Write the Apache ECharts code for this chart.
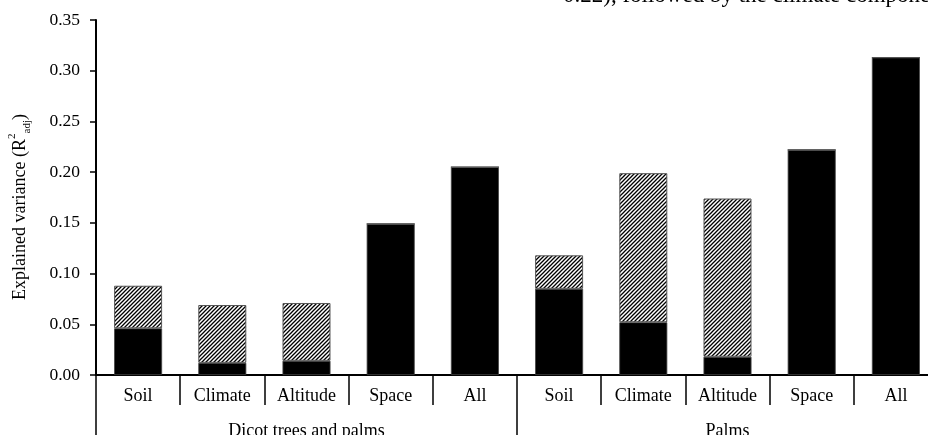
<!DOCTYPE html>
<html>
<head>
<meta charset="utf-8">
<script src="https://cdn.jsdelivr.net/npm/echarts@6/dist/echarts.min.js"></script>
<style>
  html, body { margin: 0; padding: 0; background: #fff; }
  #chart { width: 928px; height: 435px; }
</style>
</head>
<body>
<div id="chart"></div>
<script>
// Explained variance per predictor set, for two species groups
const categories = ['Soil', 'Climate', 'Altitude', 'Space', 'All',
                    'Soil', 'Climate', 'Altitude', 'Space', 'All'];
const groups = ['Dicot trees and palms', 'Palms'];
// pure fraction (solid) and shared fraction (hatched) stacked on top
const pureFraction   = [0.046, 0.012, 0.014, 0.149, 0.205, 0.085, 0.052, 0.018, 0.222, 0.313];
const sharedFraction = [0.042, 0.057, 0.057, 0, 0, 0.033, 0.147, 0.156, 0, 0];
const yTicks = { min: 0, max: 0.35, step: 0.05 };

const serif = '"Liberation Serif", "Times New Roman", serif';

// diagonal hatch tile
function hatchPattern() {
  const s = 4;
  const c = document.createElement('canvas');
  c.width = s; c.height = s;
  const g = c.getContext('2d');
  g.fillStyle = '#fff';
  g.fillRect(0, 0, s, s);
  g.strokeStyle = '#000';
  g.lineWidth = 1.3;
  g.beginPath();
  g.moveTo(-1, s + 1); g.lineTo(s + 1, -1);
  g.moveTo(-1, 1); g.lineTo(1, -1);
  g.moveTo(s - 1, s + 1); g.lineTo(s + 1, s - 1);
  g.stroke();
  return c;
}

const chart = echarts.init(document.getElementById('chart'), null, { renderer: 'canvas' });

chart.setOption({
  animation: false,
  backgroundColor: '#fff',
  textStyle: { fontFamily: serif },
  grid: { left: 96, right: -10, top: 20, bottom: 60, containLabel: false, outerBoundsMode: 'none' },
  xAxis: [
    {
      type: 'category',
      data: categories,
      boundaryGap: true,
      axisLine: { show: true, lineStyle: { color: '#000', width: 2 } },
      axisTick: { show: true, interval: 0, length: 30, lineStyle: { color: '#000', width: 1.5 } },
      axisLabel: { interval: 0, fontFamily: serif, fontSize: 18, color: '#000', margin: 12 },
      splitLine: { show: false }
    },
    {
      type: 'category',
      data: groups,
      position: 'bottom',
      boundaryGap: true,
      axisLine: { show: false },
      axisTick: { show: true, interval: 0, length: 62, lineStyle: { color: '#000', width: 1.5 } },
      axisLabel: { interval: 0, fontFamily: serif, fontSize: 18, color: '#000', margin: 47 },
      splitLine: { show: false }
    }
  ],
  yAxis: {
    type: 'value',
    min: yTicks.min,
    max: yTicks.max,
    interval: yTicks.step,
    axisLine: { show: true, lineStyle: { color: '#000', width: 2 } },
    axisTick: { show: true, inside: false, length: 6, lineStyle: { color: '#000', width: 1.5 } },
    axisLabel: {
      fontFamily: serif, fontSize: 17.5, color: '#000', margin: 16,
      formatter: v => v.toFixed(2)
    },
    splitLine: { show: false }
  },
  series: [
    {
      name: 'Pure',
      type: 'bar',
      stack: 'total',
      xAxisIndex: 0,
      barWidth: '57%',
      data: pureFraction,
      itemStyle: { color: '#000', borderColor: '#444', borderWidth: 0.8 }
    },
    {
      name: 'Shared',
      type: 'bar',
      stack: 'total',
      xAxisIndex: 0,
      barWidth: '57%',
      data: sharedFraction,
      itemStyle: {
        color: { image: hatchPattern(), repeat: 'repeat' },
        borderColor: '#555',
        borderWidth: 1
      }
    }
  ],
  graphic: [
    {
      // y-axis title, rotated, with R² subscript adj
      type: 'text',
      x: 20,
      y: 207,
      rotation: Math.PI / 2,
      style: {
        text: '{t|Explained variance (R}{sup|2}{sub|adj}{t|)}',
        align: 'center',
        verticalAlign: 'middle',
        fontFamily: serif,
        fontSize: 18,
        fill: '#000',
        rich: {
          t: { fontFamily: serif, fontSize: 18, fill: '#000', lineHeight: 26, verticalAlign: 'middle' },
          sup: { fontFamily: serif, fontSize: 11, fill: '#000', lineHeight: 26, verticalAlign: 'top' },
          sub: { fontFamily: serif, fontSize: 11, fill: '#000', lineHeight: 26, verticalAlign: 'bottom' }
        }
      }
    },
    {
      type: 'text',
      left: 563,
      top: -16,
      style: {
        text: '0.22), followed by the climate compone',
        fontFamily: serif,
        fontSize: 23,
        fill: '#000'
      }
    }
  ]
});
</script>
</body>
</html>
